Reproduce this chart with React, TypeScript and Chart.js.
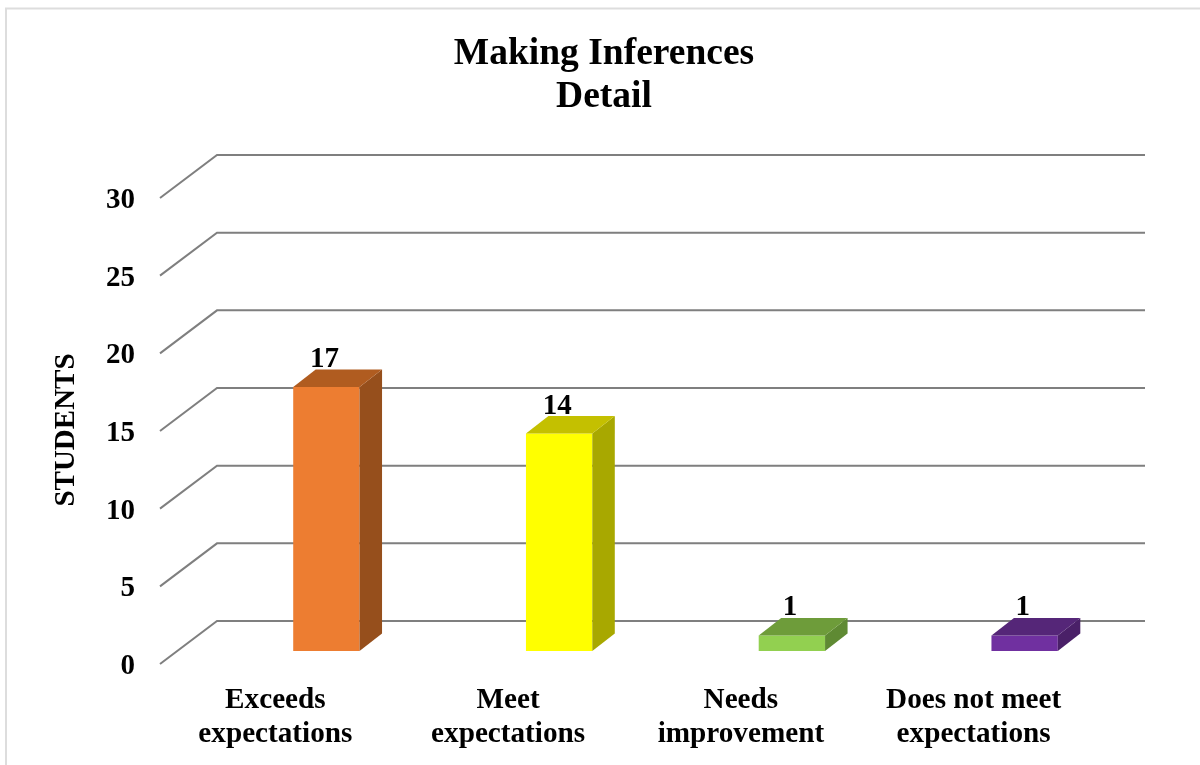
import React, { useEffect, useRef } from "react";
import { Chart, registerables } from "chart.js";

Chart.register(...registerables);

const chartTitle = ["Making Inferences", "Detail"];
const axisTitle = "STUDENTS";
const categories = [
  ["Exceeds", "expectations"],
  ["Meet", "expectations"],
  ["Needs", "improvement"],
  ["Does not meet", "expectations"],
];
const students = [17, 14, 1, 1];
const frontColors = ["#ED7D31", "#FFFF00", "#92D050", "#7030A0"];
const topColors = ["#B05C20", "#C4C000", "#6E9C3A", "#552678"];
const sideColors = ["#964F1C", "#A8A800", "#5F8A33", "#4A2068"];
const SERIF = "'Liberation Serif', 'Times New Roman', serif";

// Depth of the columns and of the floor, in pixels.
const BAR_DX = 22.5;
const BAR_DY = 17.5;
const WALL_RISE = 30;

const walls = {
  id: "walls",
  beforeDraw(chart: any) {
    const { ctx, width, height } = chart;
    ctx.save();
    ctx.fillStyle = "#ffffff";
    ctx.fillRect(0, 0, width, height);
    ctx.strokeStyle = "#dddddd";
    ctx.lineWidth = 2;
    ctx.beginPath();
    ctx.moveTo(6, height);
    ctx.lineTo(6, 8.5);
    ctx.lineTo(width, 8.5);
    ctx.stroke();
    ctx.restore();
  },
  beforeDatasetsDraw(chart: any) {
    const { ctx, chartArea, scales } = chart;
    const wallLeft = chartArea.left + 7;
    const wallRight = chartArea.right + 4;
    const frontLeft = chartArea.left - 50;
    ctx.save();
    ctx.strokeStyle = "#7F7F7F";
    ctx.lineWidth = 2;
    scales.y.ticks.forEach((t: any) => {
      const p = scales.y.getPixelForValue(t.value);
      ctx.beginPath();
      ctx.moveTo(frontLeft, p + 13);
      ctx.lineTo(wallLeft, p - WALL_RISE);
      ctx.lineTo(wallRight, p - WALL_RISE);
      ctx.stroke();
    });
    ctx.restore();
  },
};

// Side and top faces of each column, then the value above it.
const columnFaces = {
  id: "columnFaces",
  afterDatasetsDraw(chart: any) {
    const { ctx } = chart;
    const bars = chart.getDatasetMeta(0).data;
    ctx.save();
    bars.forEach((bar: any, i: number) => {
      const { x, y, base, width } = bar.getProps(["x", "y", "base", "width"], true);
      const l = x - width / 2;
      const r = x + width / 2;
      ctx.fillStyle = sideColors[i];
      ctx.beginPath();
      ctx.moveTo(r, y);
      ctx.lineTo(r + BAR_DX, y - BAR_DY);
      ctx.lineTo(r + BAR_DX, base - BAR_DY);
      ctx.lineTo(r, base);
      ctx.closePath();
      ctx.fill();
      ctx.fillStyle = topColors[i];
      ctx.beginPath();
      ctx.moveTo(l, y);
      ctx.lineTo(l + BAR_DX, y - BAR_DY);
      ctx.lineTo(r + BAR_DX, y - BAR_DY);
      ctx.lineTo(r, y);
      ctx.closePath();
      ctx.fill();
    });
    ctx.fillStyle = "#000000";
    ctx.font = `bold 29px ${SERIF}`;
    ctx.textAlign = "center";
    ctx.textBaseline = "alphabetic";
    bars.forEach((bar: any, i: number) => {
      const { x, y } = bar.getProps(["x", "y"], true);
      ctx.fillText(String(students[i]), x - 2, y - 20);
    });
    ctx.translate(64, 430);
    ctx.rotate(-Math.PI / 2);
    ctx.textBaseline = "middle";
    ctx.fillText(axisTitle, 0, 3);
    ctx.restore();
  },
};

export default function App() {
  const ref = useRef<HTMLCanvasElement>(null);

  useEffect(() => {
    const chart = new Chart(ref.current!, {
      type: "bar",
      data: {
        labels: categories,
        datasets: [
          {
            label: axisTitle,
            data: students,
            backgroundColor: frontColors,
            borderWidth: 0,
            barPercentage: 0.285,
            categoryPercentage: 1,
          },
        ],
      },
      options: {
        responsive: false,
        animation: false,
        layout: { padding: { left: 67, right: 59, top: 0, bottom: 0 } },
        plugins: {
          legend: { display: false },
          tooltip: { enabled: false },
          title: {
            display: true,
            text: chartTitle,
            color: "#000000",
            font: { family: SERIF, size: 37.5, weight: "bold", lineHeight: 43 / 37.5 },
            padding: { top: 32.5, bottom: 66.5 },
          },
        },
        scales: {
          x: {
            grid: { display: false, drawTicks: false },
            border: { display: false },
            afterFit(scale: any) {
              scale.height = 114;
            },
            ticks: {
              autoSkip: false,
              maxRotation: 0,
              minRotation: 0,
              padding: 32,
              labelOffset: -51,
              color: "#000000",
              font: { family: SERIF, size: 29.2, weight: "bold", lineHeight: 34 / 29.2 },
            },
          },
          y: {
            min: 0,
            max: 30,
            grid: { display: false, drawTicks: false },
            border: { display: false },
            afterFit(scale: any) {
              scale.width = 143;
            },
            ticks: {
              stepSize: 5,
              padding: 75,
              labelOffset: 15.5,
              color: "#000000",
              font: { family: SERIF, size: 29, weight: "bold" },
            },
          },
        },
      },
      plugins: [walls, columnFaces],
    } as any);
    return () => chart.destroy();
  }, []);

  return (
    <canvas
      ref={ref}
      width={1200}
      height={765}
      style={{ position: "absolute", left: 0, top: 0, display: "block" }}
    />
  );
}
